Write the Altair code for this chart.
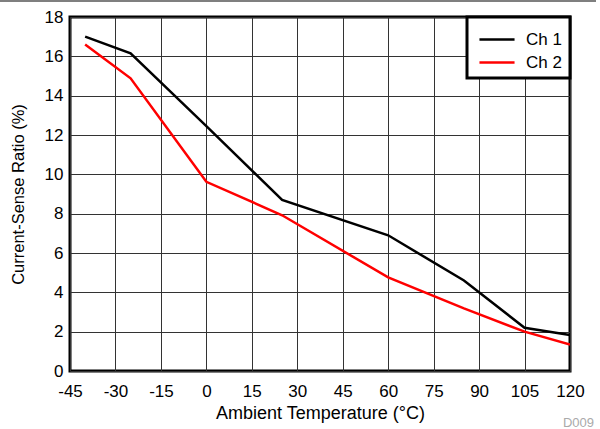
import altair as alt
import pandas as pd

temps = [-40, -25, 0, 25, 60, 85, 105, 120]
ch1 = [17.0, 16.15, 12.45, 8.7, 6.9, 4.6, 2.2, 1.83]
ch2 = [16.6, 14.88, 9.62, 7.92, 4.76, 3.18, 2.0, 1.35]
series = ["Ch 1", "Ch 2"]
x_ticks = [-45, -30, -15, 0, 15, 30, 45, 60, 75, 90, 105, 120]
y_ticks = [0, 2, 4, 6, 8, 10, 12, 14, 16, 18]

rows = []
for t, a, b in zip(temps, ch1, ch2):
    rows.append({"T": t, "v": a, "s": series[0]})
    rows.append({"T": t, "v": b, "s": series[1]})
df = pd.DataFrame(rows)

FONT = "Liberation Sans"

lines = alt.Chart(df).mark_line(strokeWidth=2.5, clip=True).encode(
    x=alt.X("T:Q", scale=alt.Scale(domain=[-45, 120], nice=False, zero=False),
            axis=alt.Axis(values=x_ticks, title="Ambient Temperature (°C)",
                          labelExpr="'' + datum.value",
                          tickSize=0, labelPadding=12, titlePadding=5,
                          labelFontSize=17, titleFontSize=18,
                          labelFlush=False, labelOverlap=False,
                          domain=False, grid=True)),
    y=alt.Y("v:Q", scale=alt.Scale(domain=[0, 18], nice=False),
            axis=alt.Axis(values=y_ticks, title="Current-Sense Ratio (%)",
                          labelExpr="'' + datum.value",
                          tickSize=0, labelPadding=7, titlePadding=18,
                          labelFontSize=17, titleFontSize=16.5,
                          labelFlush=False, labelOverlap=False,
                          domain=False, grid=True)),
    color=alt.Color("s:N", scale=alt.Scale(domain=series, range=["#000000", "#ff0000"]),
                    legend=alt.Legend(title=None, orient="top-right", offset=0,
                                      symbolType="M-1.3,0H1.3", symbolSize=729,
                                      symbolStrokeWidth=2.5, labelFontSize=17,
                                      labelFont=FONT, labelColor="#000000",
                                      labelExpr="datum.label + ' '",
                                      strokeColor="#000000", fillColor="#ffffff",
                                      padding=7.5, rowPadding=-3, labelOffset=14,
                                      symbolOffset=7.5)),
)

top_rule = alt.Chart(pd.DataFrame({"a": [0]})).mark_rule(color="#000000", strokeWidth=1.2).encode(
    x=alt.value(-70), x2=alt.value(526), y=alt.value(-16)
)

tag = alt.Chart(pd.DataFrame({"t": ["D009"]})).mark_text(
    align="right", baseline="middle", fontSize=13, font=FONT, color="#aaaaaa"
).encode(x=alt.value(524), y=alt.value(406), text="t:N")

chart = alt.layer(lines, top_rule, tag).properties(
    width=500, height=354,
    autosize=alt.AutoSizeParams(type="none"),
    padding={"left": 70, "top": 17, "right": 30, "bottom": 58},
    background="#ffffff",
).configure_view(
    stroke="#000000", strokeWidth=3
).configure_axis(
    labelFont=FONT, titleFont=FONT,
    labelColor="#000000", titleColor="#000000", titleFontWeight="normal",
    gridColor="#333333", gridWidth=1, gridOpacity=1,
).configure_legend(
    strokeWidth=3
)

chart.save("out.html", embed_options={"renderer": "svg", "actions": False})
